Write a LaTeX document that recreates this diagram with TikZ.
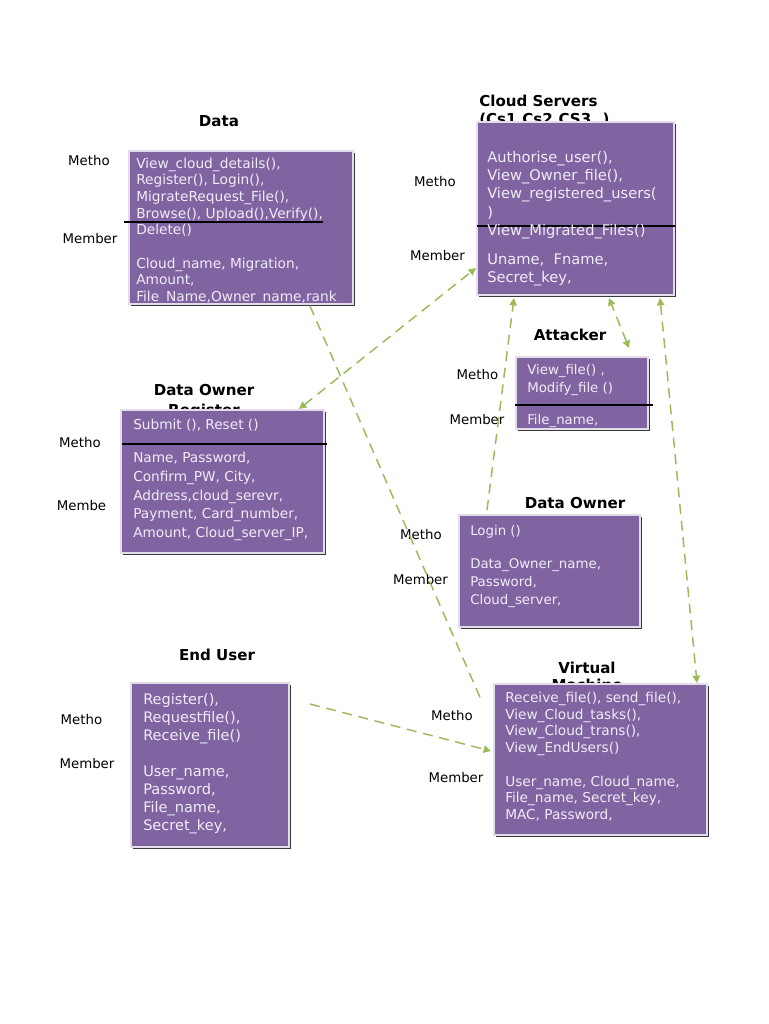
\documentclass[tikz,border=0pt]{standalone}
\usepackage{fontspec}
\setmainfont{DejaVu Sans}
\usetikzlibrary{calc,fit,shadows,arrows.meta}
\definecolor{boxpurple}{HTML}{8064A2}
\definecolor{boxedge}{HTML}{E2DCEB}
\definecolor{boxtext}{HTML}{F0ECF6}
\definecolor{linkgreen}{HTML}{9BBB59}
\definecolor{shadowgray}{HTML}{3A3A3A}
\tikzset{
  umlbox/.style={fill=boxpurple, draw=boxedge, line width=1.5pt, inner sep=0pt,
    drop shadow={shadow xshift=1.6pt, shadow yshift=-1.6pt, fill=shadowgray, opacity=1}},
  body/.style 2 args={anchor=north west, align=left, inner sep=0pt, text=boxtext,
    font=\fontsize{#1}{#2}\selectfont},
  lbl/.style={inner sep=0pt, font=\fontsize{10}{12}\selectfont},
  ttl/.style={inner sep=0pt, font=\bfseries\fontsize{11.3}{13}\selectfont},
  divider/.style={draw=black, line width=0.8pt},
  link/.style={draw=linkgreen, line width=1.1pt, dash pattern=on 7.5pt off 5pt},
  tip/.tip={Triangle[width=5.5pt,length=5.5pt]}
}
\begin{document}
\begin{tikzpicture}[x=0.75pt,y=-0.75pt]
\fill[white] (0,0) rectangle (768,1024);
\useasboundingbox (0,0) rectangle (768,1024);

% ---------- titles (second lines are cut off by the boxes) ----------
\node[ttl] (data-t) at (219,121) {Data};
\node[ttl, anchor=west] (cloud-t) at (479,101) {Cloud Servers};
\begin{scope}
\clip (400,90) rectangle (700,121);
\node[ttl, anchor=west] (cloud-t2) at (479,120) {(Cs1,Cs2,CS3..)};
\end{scope}
\node[ttl] (att-t) at (570,335) {Attacker};
\node[ttl] (reg-t) at (204,390) {Data Owner};
\begin{scope}
\clip (100,395) rectangle (330,409);
\node[ttl] (reg-t2) at (204,411) {Register};
\end{scope}
\node[ttl] (log-t) at (575,503) {Data Owner};
\begin{scope}
\clip (500,508) rectangle (650,514);
\node[ttl] (log-t2) at (575,523) {Login};
\end{scope}
\node[ttl] (eu-t) at (217,655) {End User};
\node[ttl] (vm-t) at (587,668) {Virtual};
\begin{scope}
\clip (500,673) rectangle (680,683);
\node[ttl] (vm-t2) at (587,684.5) {Machine};
\end{scope}

% ---------- boxes ----------
\node[umlbox, fit={(129,151) (353,304)}] (data) {};
\node[umlbox, fit={(477,122) (674,295)}] (cloud) {};
\node[umlbox, fit={(516,357) (648,429)}] (attacker) {};
\node[umlbox, fit={(121,410) (324,553)}] (doreg) {};
\node[umlbox, fit={(459,515) (640,627)}] (dologin) {};
\node[umlbox, fit={(131,683) (289,847)}] (enduser) {};
\node[umlbox, fit={(494,684) (707,835)}] (vm) {};

% ---------- dividers ----------
\draw[divider] (124,222) -- (323,222);
\draw[divider] (477,226) -- (675,226);
\draw[divider] (515,405) -- (653,405);
\draw[divider] (122,444) -- (327,444);

% ---------- box texts ----------
% Data
\node[body={10.3pt}{12.45pt}] (data-m) at (136,157.5)
  {View\_cloud\_details(),\\Register(), Login(),\\MigrateRequest\_File(),\\Browse(), Upload(),Verify(),\\Delete()};
\begin{scope}
\clip (130,152) rectangle (352,302);
\node[body={10.3pt}{12.45pt}] (data-a) at (136,257.5)
  {Cloud\_name, Migration,\\Amount,\\File\_Name,Owner\_name,rank};
\end{scope}
% Cloud servers
\node[body={11pt}{13.7pt}] (cloud-m) at (487,151)
  {Authorise\_user(),\\View\_Owner\_file(),\\View\_registered\_users(\\)\\View\_Migrated\_Files()};
\node[body={11pt}{13pt}] (cloud-a) at (487,254)
  {Uname,\ \ Fname,\\Secret\_key,};
% Attacker
\node[body={10pt}{13.8pt}] (att-m) at (527,364)
  {View\_file() ,\\Modify\_file ()};
\node[body={10pt}{13.5pt}] (att-a) at (527,414)
  {File\_name,};
% Data owner register
\node[body={10.25pt}{14.2pt}] (reg-m) at (133,418.5)
  {Submit (), Reset ()};
\node[body={10.25pt}{14.2pt}] (reg-a) at (133,451.5)
  {Name, Password,\\Confirm\_PW, City,\\Address,cloud\_serevr,\\Payment, Card\_number,\\Amount, Cloud\_server\_IP,};
% Data owner login
\node[body={10pt}{13.5pt}] (log-m) at (470,525.5)
  {Login ()};
\node[body={10pt}{13.5pt}] (log-a) at (470,558)
  {Data\_Owner\_name,\\Password,\\Cloud\_server,};
% End user
\node[body={10.9pt}{13.7pt}] (eu-m) at (143,693)
  {Register(),\\Requestfile(),\\Receive\_file()};
\node[body={10.9pt}{13.3pt}] (eu-a) at (143,766)
  {User\_name,\\Password,\\File\_name,\\Secret\_key,};
% Virtual machine
\node[body={10.25pt}{12.5pt}] (vm-m) at (505,692)
  {Receive\_file(), send\_file(),\\View\_Cloud\_tasks(),\\View\_Cloud\_trans(),\\View\_EndUsers()};
\node[body={10.25pt}{12.5pt}] (vm-a) at (505,775.5)
  {User\_name, Cloud\_name,\\File\_name, Secret\_key,\\MAC, Password,};

% ---------- side labels ----------
\node[lbl] (data-lm) at (89,160.5) {Metho};
\node[lbl] (data-lb) at (90,239) {Member};
\node[lbl] (cloud-lm) at (435,181.5) {Metho};
\node[lbl] (cloud-lb) at (437.5,255.5) {Member};
\node[lbl] (att-lm) at (477.5,375) {Metho};
\node[lbl] (att-lb) at (477,420) {Member};
\node[lbl] (reg-lm) at (80,443) {Metho};
\node[lbl] (reg-lb) at (81.5,506) {Membe};
\node[lbl] (log-lm) at (421,535) {Metho};
\node[lbl] (log-lb) at (420.5,580) {Member};
\node[lbl] (eu-lm) at (81.5,720) {Metho};
\node[lbl] (eu-lb) at (87,763.5) {Member};
\node[lbl] (vm-lm) at (452,716) {Metho};
\node[lbl] (vm-lb) at (456,778) {Member};

% ---------- connectors ----------
\draw[link] ($(data.south west)+(182,1)$) -- ($(vm.north west)+(-11,19)$);
\draw[link, tip-tip] ($(doreg.north west)+(179,0)$) -- ($(cloud.south west)+(0,-28)$);
\draw[link, -tip] ($(dologin.north west)+(29,-4)$) -- ($(cloud.south west)+(38,2)$);
\draw[link, tip-tip] ($(attacker.north west)+(114,-8)$) -- ($(cloud.south west)+(133,2)$);
\draw[link, tip-tip] ($(cloud.south west)+(184,2)$) -- ($(vm.north west)+(204,0)$);
\draw[link, -tip] ($(enduser.north east)+(20,22)$) -- ($(vm.north west)+(-2,68)$);
\end{tikzpicture}
\end{document}
